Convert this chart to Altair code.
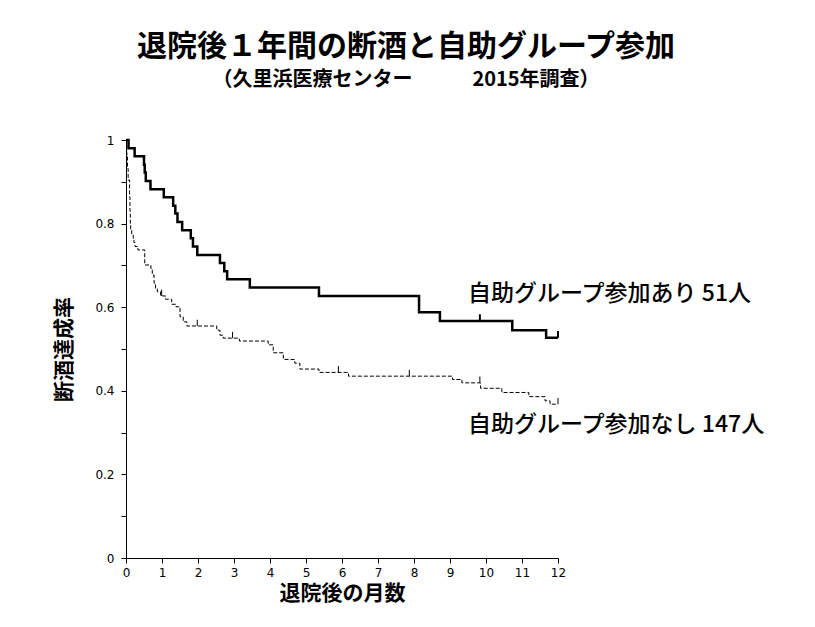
import altair as alt
import pandas as pd
import numpy as np

# --- data ---
# group with self-help participation (51 people)
t_with = [0, 0.07, 0.24, 0.50, 0.52, 0.55, 0.68, 1.05, 1.31, 1.37, 1.43, 1.56, 1.80, 1.86, 1.98,
          2.61, 2.73, 2.81, 3.44, 5.36, 8.14, 8.72, 10.73, 11.67, 12.0]
s_with = [1.0, 0.980, 0.961, 0.941, 0.922, 0.902, 0.882, 0.863, 0.843, 0.824, 0.804, 0.784, 0.765, 0.745, 0.725,
          0.706, 0.686, 0.667, 0.647, 0.627, 0.588, 0.567, 0.545, 0.527, 0.527]
cens_with = [9.83, 12.0]

# group without participation (147 people)
t_without = [0, 0.02, 0.04, 0.06, 0.10, 0.11, 0.12, 0.13, 0.16, 0.20, 0.22, 0.25, 0.33, 0.52, 0.69, 0.73,
             0.78, 0.82, 0.87, 0.96, 1.10, 1.27, 1.39, 1.50, 1.59, 1.69, 2.52, 2.61, 2.70, 3.15, 3.95,
             4.09, 4.37, 4.69, 4.83, 5.36, 6.18, 9.07, 9.33, 9.85, 10.44, 11.19, 11.64, 11.78, 12.0]
s_without = [1.0, 0.966, 0.932, 0.904, 0.864, 0.830, 0.800, 0.785, 0.775, 0.765, 0.755, 0.745, 0.737, 0.701, 0.693, 0.677,
             0.657, 0.645, 0.637, 0.627, 0.619, 0.607, 0.601, 0.577, 0.565, 0.555, 0.545, 0.533, 0.526, 0.519, 0.510,
             0.491, 0.475, 0.466, 0.452, 0.444, 0.435, 0.427, 0.419, 0.406, 0.396, 0.386, 0.376, 0.368, 0.368]
cens_without = [0.99, 1.98, 2.96, 5.90, 7.87, 9.83, 12.0]

groups = ["あり", "なし"]
label_texts = ["自助グループ参加あり 51人", "自助グループ参加なし 147人"]
label_t = [9.50, 9.50]
label_s = [0.632, 0.318]

x_ticks = list(range(0, 13))
y_ticks = [round(i * 0.1, 1) for i in range(0, 11)]

title_text = "退院後１年間の断酒と自助グループ参加"
subtitle_text = "（久里浜医療センター　　　2015年調査）"
x_title = "退院後の月数"
y_title = "断酒達成率"

JP = "Noto Sans CJK JP"
LAT = "DejaVu Sans"

def step_value(ts, ss, t):
    i = np.searchsorted(ts, t, side="right") - 1
    return ss[i]

curve_with = pd.DataFrame({"t": t_with, "s": s_with, "g": groups[0]})
curve_without = pd.DataFrame({"t": t_without, "s": s_without, "g": groups[1]})
cw = pd.DataFrame({"t": cens_with, "s": [step_value(t_with, s_with, c) for c in cens_with]})
cwo = pd.DataFrame({"t": cens_without, "s": [step_value(t_without, s_without, c) for c in cens_without]})
labels = pd.DataFrame({"t": label_t, "s": label_s, "text": label_texts})

xs = alt.Scale(domain=[0, 12], nice=False)
ys = alt.Scale(domain=[0, 1], nice=False)

x_axis = alt.Axis(values=x_ticks, title=x_title, grid=False, tickSize=5, labelPadding=4,
                  labelOverlap=False, labelFlush=False, format="d",
                  labelFont=LAT, labelFontSize=12, labelColor="black", tickColor="black",
                  domainColor="black", titleFont=JP, titleFontSize=21, titleFontWeight="bold",
                  titleColor="black", titlePadding=4)
y_axis = alt.Axis(values=y_ticks, title=y_title, grid=False, tickSize=5, labelPadding=7,
                  labelOverlap=False, labelFlush=False,
                  labelExpr="round(datum.value*10) % 2 == 0 ? format(datum.value, '~g') : ''",
                  labelFont=LAT, labelFontSize=12, labelColor="black", tickColor="black",
                  domainColor="black", titleFont=JP, titleFontSize=21, titleFontWeight="bold",
                  titleColor="black", titlePadding=20)

X = alt.X("t:Q", scale=xs, axis=x_axis)
Y = alt.Y("s:Q", scale=ys, axis=y_axis)

line_with = alt.Chart(curve_with).mark_line(interpolate="step-after", color="black", strokeWidth=2.5).encode(
    x=X, y=Y)
line_without = alt.Chart(curve_without).mark_line(interpolate="step-after", color="black", strokeWidth=1,
                                                   strokeDash=[4, 2]).encode(x=X, y=Y)
tick_with = alt.Chart(cw).transform_calculate(s2="datum.s + 0.016").mark_rule(color="black", strokeWidth=2).encode(
    x=X, y=Y, y2="s2:Q")
tick_without = alt.Chart(cwo).transform_calculate(s2="datum.s + 0.015").mark_rule(color="black", strokeWidth=1).encode(
    x=X, y=Y, y2="s2:Q")
text = alt.Chart(labels).mark_text(align="left", baseline="middle", font=JP, fontSize=23, fontWeight=500,
                                   color="black").encode(x=X, y=Y, text="text:N")

chart = alt.layer(line_with, line_without, tick_with, tick_without, text).properties(
    width=432, height=418,
    background="white",
    autosize=alt.AutoSizeParams(type="none"),
    padding={"left": 118, "top": 132, "right": 240, "bottom": 50},
    title=alt.TitleParams(text=title_text, subtitle=subtitle_text, anchor="middle", dx=64,
                          font=JP, fontSize=30, fontWeight="bold", color="black",
                          subtitleFont=JP, subtitleFontSize=20, subtitleFontWeight="bold",
                          subtitleColor="black", subtitlePadding=8, offset=44),
).configure_view(strokeWidth=0, stroke="transparent").configure_axis(labelOverlap=False)

chart.save("out.html", embed_options={"renderer": "svg", "actions": False})
